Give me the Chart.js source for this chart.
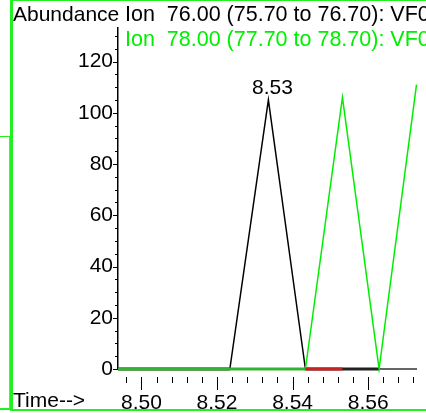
<!DOCTYPE html>
<html>
<head>
<meta charset="utf-8">
<script src="https://cdn.jsdelivr.net/npm/chart.js@4.4.0/dist/chart.umd.min.js"></script>
<style>
  html, body { margin: 0; padding: 0; background: #fff; overflow: hidden; }
  #wrap { position: relative; width: 426px; height: 413px; overflow: hidden; }
  #wrap canvas { position: absolute; left: 0; top: 0; }
  .deco { position: absolute; }
  #frame { left: 10px; top: 0; width: 440px; height: 408px; border-left: 3px solid #22f022; border-top: 1px solid #22f022; border-bottom: 2px solid #22f022; }
  #stubH { left: 0; top: 136px; width: 10px; height: 1px; background: #22f022; }
  #stubV { left: 9px; top: 137px; width: 1px; height: 273px; background: #aaa; }
  #stubB { left: 0; top: 408px; width: 10px; height: 2px; background: #22f022; }
</style>
</head>
<body>
<div id="wrap">
  <canvas id="chart" width="426" height="413"></canvas>
  <div class="deco" id="frame"></div>
  <div class="deco" id="stubH"></div>
  <div class="deco" id="stubV"></div>
  <div class="deco" id="stubB"></div>
</div>
<script>
// retention times (min) and abundances
const times = [8.4938, 8.5036, 8.5135, 8.5234, 8.5336, 8.5434, 8.5532, 8.5629, 8.5728];
const ion76 = [0, 0, 0, 0, 105, 0, 0, 0, null];
const ion78 = [0, 0, 0, 0, 0, 0, 106, 0, 111];
const baseMark = [null, null, null, null, null, 0, 0, null, null];

const xMajor = [8.50, 8.52, 8.54, 8.56];
const yMajor = [0, 20, 40, 60, 80, 100, 120];

const ion76Title = 'Ion  76.00 (75.70 to 76.70): VF0';
const ion78Title = 'Ion  78.00 (77.70 to 78.70): VF0';
const peakTime = 8.5336, peakValue = 105, peakText = '8.53';

const FONT = '"Liberation Sans", Arial, sans-serif';
const toPoints = arr => times.map((t, i) => ({ x: t, y: arr[i] }));
const flat = ctx => ctx.p0.parsed.y === 0 && ctx.p1.parsed.y === 0;

// minor + major tick marks, drawn from the chart scales
const tickMarks = {
    id: 'tickMarks',
    afterDraw(chart) {
        const { ctx, scales: { x, y } } = chart;
        ctx.save();
        ctx.strokeStyle = '#000';
        ctx.lineWidth = 1;
        const top = y.bottom + 8;
        for (let i = 0; i <= 19; i++) {
            const t = 8.496 + i * 0.004;
            const px = Math.round(x.getPixelForValue(t)) + 0.5;
            const major = xMajor.some(m => Math.abs(m - t) < 1e-6);
            ctx.beginPath();
            ctx.moveTo(px, top);
            ctx.lineTo(px, top + (major ? 13 : 6));
            ctx.stroke();
        }
        for (let v = 0; v <= 130; v += 5) {
            const py = Math.round(y.getPixelForValue(v)) + 0.5;
            const major = v % 20 === 0;
            ctx.beginPath();
            ctx.moveTo(x.left, py);
            ctx.lineTo(x.left - (major ? 5 : 3), py);
            ctx.stroke();
        }
        ctx.restore();
    }
};

// header, axis captions and the peak label
const captions = {
    id: 'captions',
    afterDraw(chart) {
        const { ctx, scales: { x, y } } = chart;
        ctx.save();
        ctx.font = '21px ' + FONT;
        ctx.textBaseline = 'alphabetic';
        ctx.textAlign = 'left';
        ctx.fillStyle = '#000';
        ctx.fillText('Abundance', 13, 21);
        ctx.fillText('Time-->', 13, 407);
        ctx.font = '21.5px ' + FONT;
        ctx.fillText(ion76Title, 125, 21);
        ctx.fillStyle = '#00ee00';
        ctx.fillText(ion78Title, 125, 46);
        ctx.font = '21px ' + FONT;
        ctx.fillStyle = '#000';
        ctx.textAlign = 'center';
        ctx.fillText(peakText, x.getPixelForValue(peakTime) + 4, y.getPixelForValue(peakValue) - 6);
        ctx.restore();
    }
};

new Chart(document.getElementById('chart'), {
    type: 'line',
    data: {
        datasets: [
            {
                label: 'base',
                data: toPoints(baseMark),
                borderColor: '#cc2222',
                borderWidth: 3,
                pointRadius: 0,
                clip: 4,
                order: 1
            },
            {
                label: 'Ion 78.00',
                data: toPoints(ion78),
                borderColor: '#00ee00',
                borderWidth: 1.5,
                pointRadius: 0,
                clip: 4,
                segment: {
                    borderColor: c => flat(c) ? '#33b333' : undefined,
                    borderWidth: c => flat(c) ? 3 : undefined
                },
                order: 2
            },
            {
                label: 'Ion 76.00',
                data: toPoints(ion76),
                borderColor: '#000',
                borderWidth: 1.5,
                pointRadius: 0,
                clip: 4,
                segment: {
                    borderColor: c => flat(c) ? '#222' : undefined,
                    borderWidth: c => flat(c) ? 3 : undefined
                },
                order: 3
            }
        ]
    },
    options: {
        responsive: false,
        animation: false,
        events: [],
        layout: { padding: { top: 28, right: 9.5, left: 0, bottom: 0 } },
        plugins: { legend: { display: false }, tooltip: { enabled: false } },
        scales: {
            x: {
                type: 'linear',
                min: 8.4938,
                max: 8.5728,
                afterFit: s => { s.height = 44; },
                afterBuildTicks: s => { s.ticks = xMajor.map(v => ({ value: v })); },
                grid: { drawOnChartArea: false, drawTicks: false },
                border: { color: '#666', width: 2 },
                ticks: {
                    padding: 22,
                    color: '#000',
                    font: { family: FONT, size: 21 },
                    maxRotation: 0,
                    autoSkip: false,
                    callback: v => v.toFixed(2)
                }
            },
            y: {
                min: 0,
                max: 133.1,
                afterFit: s => { s.width = 118; },
                afterBuildTicks: s => { s.ticks = yMajor.map(v => ({ value: v })); },
                grid: { drawOnChartArea: false, drawTicks: false },
                border: { color: '#000', width: 1.5 },
                ticks: {
                    padding: 5,
                    color: '#000',
                    font: { family: FONT, size: 21 },
                    callback: v => String(v)
                }
            }
        }
    },
    plugins: [tickMarks, captions]
});
</script>
</body>
</html>
